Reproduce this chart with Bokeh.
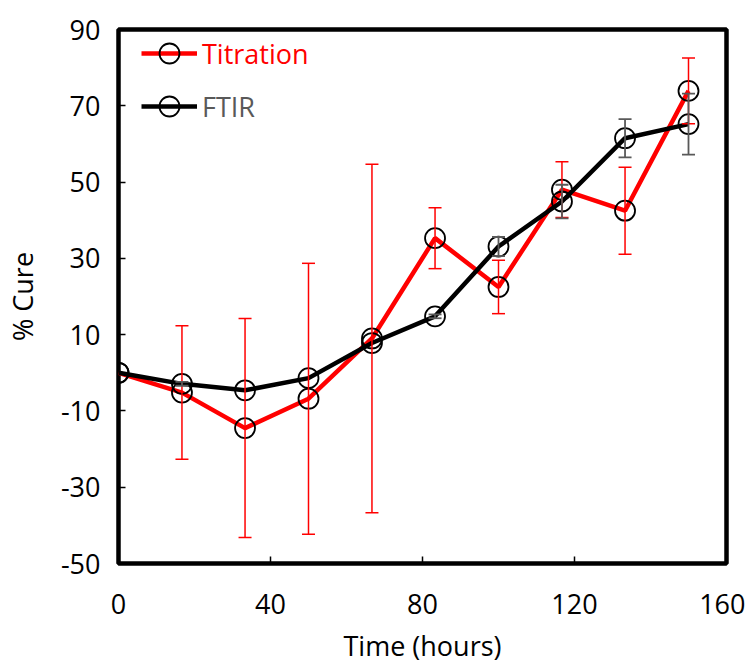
from bokeh.plotting import figure
from bokeh.models import (ColumnDataSource, Range1d, FixedTicker, Whisker, TeeHead,
                          Legend, LegendItem)
from bokeh.embed import file_html
from bokeh.resources import INLINE

# ---- data ----
time_h = [0, 16.7, 33.3, 50, 66.7, 83.3, 100, 116.7, 133.3, 150]
titration = [0, -5.2, -14.5, -6.8, 9.0, 35.3, 22.5, 48.0, 42.5, 73.9]
titration_err = [0, 17.5, 28.7, 35.5, 45.7, 8.0, 7.0, 7.3, 11.4, 8.6]
ftir = [0, -2.9, -4.6, -1.4, 7.8, 14.8, 33.1, 44.9, 61.5, 65.2]
ftir_err = [0, 0.5, 0, 0, 0, 0.5, 2.5, 4.4, 5.0, 8.0]

x_ticks = [0, 40, 80, 120, 160]
y_ticks = [-50, -30, -10, 10, 30, 50, 70, 90]
y_tick_labels = ["-50", "-30", "-10", "10", "30", "50", "70", "90"]

FONT = "Open Sans"
FS = "27px"

p = figure(width=745, height=666, output_backend="svg", toolbar_location=None,
           x_range=Range1d(0, 160), y_range=Range1d(-50, 90),
           min_border_left=118, min_border_right=19, min_border_top=29,
           min_border_bottom=103)

p.grid.visible = False
p.outline_line_color = "black"
p.outline_line_width = 4.5
p.background_fill_color = "white"
p.border_fill_color = "white"

for ax in (p.xaxis[0], p.yaxis[0]):
    ax.axis_line_color = None
    ax.major_tick_in = 7
    ax.major_tick_out = 0
    ax.major_tick_line_width = 1.5
    ax.major_tick_line_color = "black"
    ax.minor_tick_line_color = None
    ax.major_label_text_font = FONT
    ax.major_label_text_font_size = FS
    ax.major_label_text_color = "black"
    ax.axis_label_text_font = FONT
    ax.axis_label_text_font_size = FS
    ax.axis_label_text_font_style = "normal"
    ax.axis_label_text_color = "black"

p.xaxis.ticker = FixedTicker(ticks=x_ticks)
p.yaxis.ticker = FixedTicker(ticks=y_ticks)
p.yaxis.major_label_overrides = dict(zip(y_ticks, y_tick_labels))
p.xaxis.axis_label = "Time (hours)"
p.yaxis.axis_label = "% Cure"
p.xaxis.major_label_standoff = 30
p.yaxis.major_label_standoff = 18
p.xaxis.axis_label_standoff = 10
p.yaxis.axis_label_standoff = 17

# ---- error bars ----
def err_source(xs, ys, es):
    xx, lo, hi = [], [], []
    for x, y, e in zip(xs, ys, es):
        if e > 0:
            xx.append(x)
            lo.append(y - e)
            hi.append(y + e)
    return ColumnDataSource(dict(x=xx, lower=lo, upper=hi))

red_err = Whisker(source=err_source(time_h, titration, titration_err), base="x",
                  lower="lower", upper="upper", line_color="red", line_width=1.5,
                  level="glyph",
                  upper_head=TeeHead(size=13, line_color="red", line_width=1.5),
                  lower_head=TeeHead(size=13, line_color="red", line_width=1.5))
gray_err = Whisker(source=err_source(time_h, ftir, ftir_err), base="x",
                   lower="lower", upper="upper", line_color="#595959", line_width=1.8,
                   level="glyph",
                   upper_head=TeeHead(size=13, line_color="#595959", line_width=1.8),
                   lower_head=TeeHead(size=13, line_color="#595959", line_width=1.8))
p.add_layout(red_err)
p.add_layout(gray_err)

src = ColumnDataSource(dict(t=time_h, tit=titration, ftir=ftir))

r_line = p.line("t", "tit", source=src, line_color="red", line_width=4.5)
r_mark = p.scatter("t", "tit", source=src, marker="circle", size=20,
                   fill_alpha=0, line_color="black", line_width=1.8)
b_line = p.line("t", "ftir", source=src, line_color="black", line_width=4.5)
b_mark = p.scatter("t", "ftir", source=src, marker="circle", size=20,
                   fill_alpha=0, line_color="black", line_width=1.8)

def make_legend(label, renderers, color, loc):
    lg = Legend(items=[LegendItem(label=label, renderers=renderers)],
                location=loc, glyph_width=56, glyph_height=50,
                label_standoff=5, padding=0, margin=0, spacing=0,
                label_text_font=FONT, label_text_font_size=FS,
                label_text_color=color, border_line_alpha=0,
                background_fill_alpha=0)
    p.add_layout(lg, "center")

make_legend("Titration", [r_line, r_mark], "red", (23, 485))
make_legend("FTIR", [b_line, b_mark], "#595959", (23, 432))

open("out.html", "w").write(file_html(p, INLINE))
